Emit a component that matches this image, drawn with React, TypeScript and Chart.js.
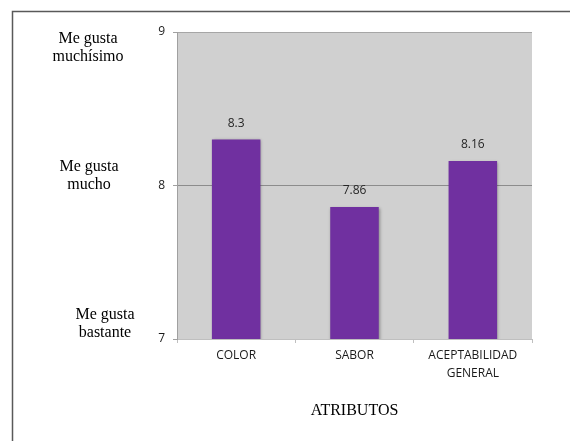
import React, { useEffect, useRef } from "react";
import { Chart, registerables } from "chart.js";

Chart.register(...registerables);

// Attributes evaluated and their mean hedonic scores
const categories: (string | string[])[] = ["COLOR", "SABOR", ["ACEPTABILIDAD", "GENERAL"]];
const scores: number[] = [8.3, 7.86, 8.16];
const scoreLabels: string[] = ["8.3", "7.86", "8.16"];

// Numeric scale and the verbal hedonic anchors beside it
const yTicks: number[] = [9, 8, 7];
const anchorValues: number[] = [9, 8, 7];
const anchorTexts: string[][] = [
  ["Me gusta", "muchísimo"],
  ["Me gusta", "mucho"],
  ["Me gusta", "bastante"],
];
const xTitle = "ATRIBUTOS";

const BAR_COLOR = "#7030A0";
const PLOT_BG = "#D0D0D0";
const SERIF = "'Liberation Serif', 'Times New Roman', serif";
const SANS = "'Open Sans', 'DejaVu Sans', sans-serif";

// Vertical placement of each anchor text block (first line offset from its tick) and its centre x
const anchorLayout = [
  { x: 88, dy: 7 },
  { x: 89, dy: -19 },
  { x: 105, dy: -24 },
];

const decorPlugin = {
  id: "decor",
  beforeDraw(chart: any) {
    const { ctx, chartArea } = chart;
    ctx.save();
    ctx.fillStyle = "#ffffff";
    ctx.fillRect(0, 0, chart.width, chart.height);
    // outer frame (top and left edges)
    ctx.strokeStyle = "#595959";
    ctx.lineWidth = 1.5;
    ctx.beginPath();
    ctx.moveTo(chart.width, 11.5);
    ctx.lineTo(12.5, 11.5);
    ctx.lineTo(12.5, chart.height);
    ctx.stroke();
    // plot background
    ctx.fillStyle = PLOT_BG;
    ctx.fillRect(chartArea.left, chartArea.top, chartArea.right - chartArea.left, chartArea.bottom - chartArea.top);
    ctx.restore();
  },
  beforeDatasetsDraw(chart: any) {
    const { ctx } = chart;
    ctx.save();
    ctx.shadowColor = "rgba(0,0,0,0.35)";
    ctx.shadowBlur = 3;
    ctx.shadowOffsetX = 1;
    ctx.shadowOffsetY = 1;
  },
  afterDatasetsDraw(chart: any) {
    const { ctx } = chart;
    ctx.restore();
    ctx.save();
    // value labels above the bars
    const meta = chart.getDatasetMeta(0);
    ctx.fillStyle = "#262626";
    ctx.font = `12px ${SANS}`;
    ctx.textAlign = "center";
    ctx.textBaseline = "middle";
    meta.data.forEach((bar: any, i: number) => {
      ctx.fillText(scoreLabels[i], bar.x, bar.y - 16);
    });
    ctx.restore();
  },
  afterDraw(chart: any) {
    const { ctx, scales } = chart;
    ctx.save();
    ctx.fillStyle = "#000000";
    ctx.font = `16px ${SERIF}`;
    ctx.textAlign = "center";
    ctx.textBaseline = "middle";
    anchorTexts.forEach((lines, i) => {
      const y0 = scales.y.getPixelForValue(anchorValues[i]) + anchorLayout[i].dy;
      lines.forEach((line, j) => {
        ctx.fillText(line, anchorLayout[i].x, y0 + j * 18);
      });
    });
    // x-axis title
    const area = chart.chartArea;
    ctx.fillText(xTitle, (area.left + area.right) / 2, 411);
    ctx.restore();
  },
};

export default function App() {
  const canvasRef = useRef<HTMLCanvasElement | null>(null);

  useEffect(() => {
    document.body.style.margin = "0";
    const canvas = canvasRef.current;
    if (!canvas) return;
    const chart = new Chart(canvas, {
      type: "bar",
      data: {
        labels: categories,
        datasets: [
          {
            data: scores,
            backgroundColor: BAR_COLOR,
            borderWidth: 0,
            barPercentage: 0.41,
            categoryPercentage: 1,
          },
        ],
      },
      options: {
        animation: false,
        responsive: false,
        maintainAspectRatio: false,
        events: [],
        layout: { padding: { top: 32, right: 38, left: 0, bottom: 0 } },
        plugins: {
          legend: { display: false },
          tooltip: { enabled: false },
          title: { display: false },
        },
        scales: {
          x: {
            offset: true,
            border: { display: true, color: "#BFBFBF", width: 1 },
            grid: {
              offset: true,
              drawOnChartArea: false,
              drawTicks: true,
              tickLength: 4,
              tickColor: "#BFBFBF",
            },
            ticks: {
              color: "#1a1a1a",
              font: { family: SANS, size: 12, lineHeight: 1.5 },
              padding: 4,
              maxRotation: 0,
              autoSkip: false,
            },
            afterFit(scale: any) {
              scale.height = 102;
            },
          },
          y: {
            min: 7,
            max: 9,
            afterBuildTicks(scale: any) {
              scale.ticks = yTicks.map((v) => ({ value: v }));
            },
            border: { display: true, color: "#A0A0A0", width: 1 },
            grid: {
              drawTicks: true,
              tickLength: 4,
              tickColor: "#A0A0A0",
              color: (c: any) => (c.tick && c.tick.value === 8 ? "#8C8C8C" : c.tick && c.tick.value === 9 ? "#A6A6A6" : "rgba(0,0,0,0)"),
            },
            ticks: {
              color: "#1a1a1a",
              font: { family: SANS, size: 12 },
              padding: 8,
            },
            afterFit(scale: any) {
              scale.width = 177;
            },
          },
        },
      },
      plugins: [decorPlugin],
    });
    return () => chart.destroy();
  }, []);

  return (
    <div style={{ width: 570, height: 441 }}>
      <canvas ref={canvasRef} width={570} height={441} style={{ display: "block", width: 570, height: 441 }} />
    </div>
  );
}
